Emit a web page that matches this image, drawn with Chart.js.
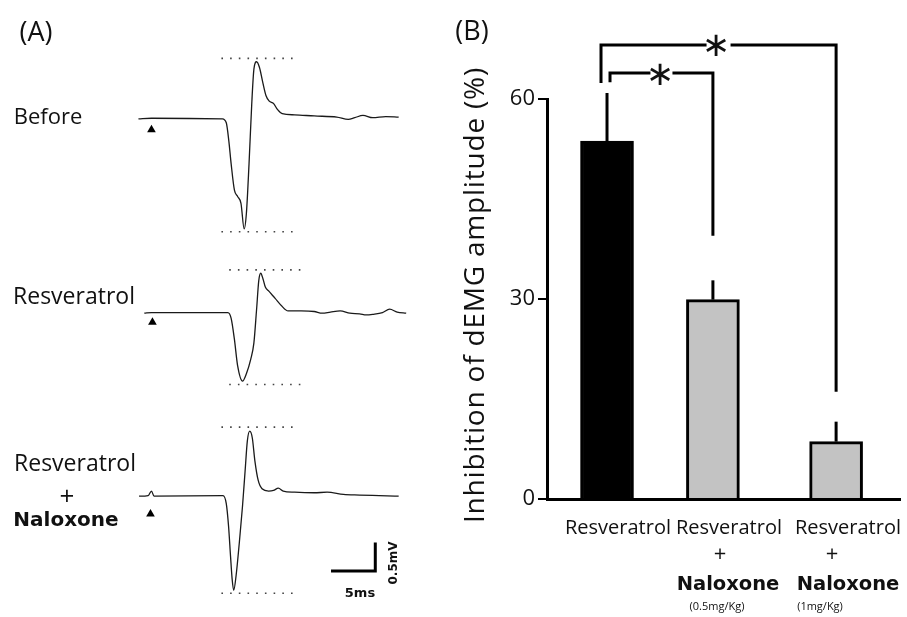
<!DOCTYPE html>
<html>
<head>
<meta charset="utf-8">
<script src="https://cdn.jsdelivr.net/npm/chart.js@4.4.1/dist/chart.umd.min.js"></script>
<style>
body { margin: 0; background: #fff; }
#wrap { position: relative; width: 907px; height: 617px; overflow: hidden; }
#traces { position: absolute; left: 0; top: 0; }
#bars { position: absolute; left: 420px; top: 0; }
.t { position: absolute; transform: translate(-50%, -50%); white-space: nowrap; line-height: 1; font-family: 'Open Sans'; color: #111; }
.b { font-family: 'DejaVu Sans'; font-weight: bold; }
.rot { transform: translate(-50%, -50%) rotate(-90deg); }
</style>
</head>
<body>
<div id="wrap">
  <canvas id="traces" width="420" height="617"></canvas>
  <canvas id="bars" width="487" height="617"></canvas>

  <div class="t" style="left:36px;top:30px;font-size:27px">(A)</div>
  <div class="t" style="left:48px;top:115px;font-size:22px">Before</div>
  <div class="t" style="left:74px;top:295px;font-size:23px">Resveratrol</div>
  <div class="t" style="left:75px;top:462px;font-size:23px">Resveratrol</div>
  <div class="t" style="left:67px;top:495px;font-size:26px">+</div>
  <div class="t b" style="left:66px;top:519px;font-size:20px">Naloxone</div>
  <div class="t b" style="left:360px;top:592px;font-size:13px">5ms</div>
  <div class="t b rot" style="left:393px;top:563px;font-size:12px">0.5mV</div>

  <div class="t" style="left:472px;top:29px;font-size:27px">(B)</div>
  <div class="t rot" style="left:473px;top:295px;font-size:28px;letter-spacing:0.8px">Inhibition of dEMG amplitude (%)</div>
  <div class="t" style="left:716px;top:44px;font-size:34px;font-family:'DejaVu Sans'">∗</div>
  <div class="t" style="left:660px;top:73px;font-size:34px;font-family:'DejaVu Sans'">∗</div>
  <div class="t" style="left:618px;top:527px;font-size:20px">Resveratrol</div>
  <div class="t" style="left:729px;top:527px;font-size:20px">Resveratrol</div>
  <div class="t" style="left:848px;top:527px;font-size:20px">Resveratrol</div>
  <div class="t" style="left:720px;top:552px;font-size:22px">+</div>
  <div class="t" style="left:832px;top:552px;font-size:22px">+</div>
  <div class="t b" style="left:728px;top:584px;font-size:19.5px">Naloxone</div>
  <div class="t b" style="left:848px;top:584px;font-size:19.5px">Naloxone</div>
  <div class="t" style="left:717px;top:605px;font-size:11px">(0.5mg/Kg)</div>
  <div class="t" style="left:820px;top:605px;font-size:11px">(1mg/Kg)</div>
</div>

<script>
// (A) dEMG traces: time in ms, amplitude in mV
const beforeTime = [0, 1.47, 9.48, 9.92, 10.21, 10.47, 10.84, 11.2, 11.58, 11.94, 12.19, 12.49, 12.79, 13.04, 13.34, 13.67, 14.04, 14.4, 14.77, 15.25, 15.72, 16.24, 17.64, 19.85, 22.41, 23.7, 24.43, 25.36, 26.46, 27.93, 29.39];
const beforeMv = [0, 0.01, 0, -0.07, -0.39, -0.79, -1.25, -1.36, -1.48, -1.93, -1.66, -0.79, 0.24, 0.87, 1.0, 0.9, 0.64, 0.41, 0.31, 0.27, 0.16, 0.09, 0.07, 0.05, 0.03, -0.01, 0.02, 0.06, 0.02, 0.04, 0.03];

const resvTime = [0.66, 1.47, 10.1, 10.47, 10.84, 11.2, 11.75, 12.19, 12.68, 13.04, 13.34, 13.59, 13.81, 14.07, 14.33, 14.7, 15.44, 16.16, 16.9, 18.37, 19.85, 20.76, 21.68, 22.78, 23.88, 24.98, 25.72, 26.46, 27.56, 28.37, 29.22, 30.24];
const resvMv = [-0.01, 0, 0, -0.1, -0.47, -0.93, -1.2, -1.07, -0.82, -0.53, 0.05, 0.56, 0.69, 0.59, 0.45, 0.38, 0.25, 0.12, 0.03, 0.03, 0.02, -0.01, 0.01, 0.03, -0.01, -0.02, -0.04, -0.03, 0, 0.06, 0.01, -0.01];

const naloxTime = [0.07, 1.1, 1.47, 1.76, 9.55, 9.92, 10.18, 10.4, 10.58, 10.76, 11.03, 11.39, 11.75, 12.05, 12.3, 12.57, 12.86, 13.15, 13.52, 13.96, 14.7, 15.25, 15.8, 16.35, 17.64, 19.85, 21.31, 23.15, 24.98, 27.19, 29.39];
const naloxMv = [-0.01, 0, 0.08, -0.01, 0, -0.14, -0.54, -1.06, -1.46, -1.66, -1.4, -0.83, -0.19, 0.44, 0.96, 1.13, 1.01, 0.61, 0.27, 0.12, 0.08, 0.09, 0.13, 0.08, 0.06, 0.05, 0.06, 0.02, 0.01, 0, -0.01];

// peak / trough reference levels (dotted lines), mV
const peakMv = [1.06, 0.75, 1.2];
const troughMv = [-1.98, -1.26, -1.71];
const dotStart = [9.37, 10.25, 9.37];
const dotEnd = [18.0, 19.09, 18.0];

// stimulus markers
const stimTime = [1.47, 1.58, 1.36];
const stimMv = [-0.19, -0.17, -0.32];

// scale bar: 5 ms, 0.5 mV
const barTime = [21.75, 26.75, 26.75];
const barMv = [-1.32, -1.32, -0.82];

// (B) inhibition of dEMG amplitude (%)
const groups = ['Resveratrol', 'Resveratrol + Naloxone (0.5mg/Kg)', 'Resveratrol + Naloxone (1mg/Kg)'];
const inhibition = [53.7, 29.9, 8.6];
const sem = [7.2, 2.9, 3.0];
const yTicks = [0, 30, 60];

function pts(xs, ys) {
    return xs.map((x, i) => ({ x: x, y: ys[i] }));
}

// ---------- panel A ----------
const pxPerMs = 9.07;
const pxPerMv = 58;
const baselinePx = [115.7, 312.7, 498.7];
const startPx = 136.7;
const hA = 617, wA = 420;

const traceScales = {
    x: { type: 'linear', display: false, min: -startPx / pxPerMs, max: (wA - startPx) / pxPerMs }
};
baselinePx.forEach((b, i) => {
    traceScales['y' + i] = { type: 'linear', display: false, max: b / pxPerMv, min: b / pxPerMv - hA / pxPerMv };
});

const traceSets = [];
[[beforeTime, beforeMv], [resvTime, resvMv], [naloxTime, naloxMv]].forEach((tr, i) => {
    traceSets.push({
        data: pts(tr[0], tr[1]), yAxisID: 'y' + i,
        borderColor: '#1a1a1a', borderWidth: 1.3, pointRadius: 0,
        cubicInterpolationMode: 'monotone', fill: false
    });
    [peakMv[i], troughMv[i]].forEach(level => {
        traceSets.push({
            data: pts([dotStart[i], dotEnd[i]], [level, level]), yAxisID: 'y' + i,
            borderColor: '#444', borderWidth: 1.6, borderDash: [1.6, 7.1], pointRadius: 0
        });
    });
    traceSets.push({
        data: [{ x: stimTime[i], y: stimMv[i] }], yAxisID: 'y' + i, showLine: false,
        pointStyle: 'triangle', pointRadius: 5, backgroundColor: '#000', borderColor: '#000', borderWidth: 0
    });
});
traceSets.push({
    data: pts(barTime, barMv), yAxisID: 'y2',
    borderColor: '#000', borderWidth: 3, pointRadius: 0, tension: 0,
    borderJoinStyle: 'miter', borderCapStyle: 'butt'
});

new Chart(document.getElementById('traces'), {
    type: 'line',
    data: { datasets: traceSets },
    options: {
        responsive: false,
        animation: false,
        layout: { padding: 0 },
        scales: traceScales,
        plugins: { legend: { display: false }, tooltip: { enabled: false } }
    }
});

// ---------- panel B ----------
const barX = [1.7, 4.7, 8.19];
const brackets = [
    { from: 0, to: 2, level: 68.1, leftEnd: 62.4, rightEnd: 16.1, dx: -6, gap: 12 },
    { from: 0, to: 1, level: 63.9, leftEnd: 62.5, rightEnd: 39.5, dx: 3, gap: 11 }
];

const annotate = {
    id: 'annotate',
    afterDatasetsDraw(chart) {
        const { ctx, scales: { x, y } } = chart;
        ctx.save();
        ctx.strokeStyle = '#000';
        ctx.lineWidth = 3;
        ctx.lineCap = 'butt';
        ctx.lineJoin = 'miter';
        // error bars (upper half)
        barX.forEach((bx, i) => {
            const px = x.getPixelForValue(bx);
            ctx.beginPath();
            ctx.moveTo(px, y.getPixelForValue(inhibition[i]));
            ctx.lineTo(px, y.getPixelForValue(inhibition[i] + sem[i]));
            ctx.stroke();
        });
        // significance brackets
        brackets.forEach(b => {
            const xl = x.getPixelForValue(barX[b.from]) + b.dx;
            const xr = x.getPixelForValue(barX[b.to]);
            const yl = y.getPixelForValue(b.level);
            const cx = (xl + xr) / 2;
            ctx.beginPath();
            ctx.moveTo(xl, y.getPixelForValue(b.leftEnd));
            ctx.lineTo(xl, yl);
            ctx.lineTo(cx - b.gap, yl);
            ctx.moveTo(cx + b.gap, yl);
            ctx.lineTo(xr, yl);
            ctx.lineTo(xr, y.getPixelForValue(b.rightEnd));
            ctx.stroke();
        });
        ctx.restore();
    }
};

new Chart(document.getElementById('bars'), {
    type: 'bar',
    data: {
        labels: groups,
        datasets: [{
            data: pts(barX, inhibition),
            backgroundColor: ['#000000', '#c3c3c3', '#c3c3c3'],
            borderColor: '#000',
            borderWidth: 3,
            borderSkipped: 'bottom',
            barThickness: 53,
            grouped: false
        }]
    },
    options: {
        responsive: false,
        animation: false,
        layout: { padding: { left: 0, top: 99, right: 7, bottom: 118 } },
        scales: {
            x: {
                type: 'linear', min: 0, max: 10, offset: false,
                ticks: { display: false },
                grid: { display: false },
                border: { display: true, width: 3, color: '#000' },
                afterFit(s) { s.height = 0; }
            },
            y: {
                min: 0, max: 60,
                afterBuildTicks(s) { s.ticks = yTicks.map(v => ({ value: v })); },
                ticks: { color: '#111', font: { family: 'Open Sans', size: 22 }, padding: 3 },
                grid: { drawOnChartArea: false, tickLength: 9, lineWidth: 2, color: '#000' },
                border: { display: true, width: 3, color: '#000' },
                afterFit(s) { s.width = 127; }
            }
        },
        plugins: { legend: { display: false }, tooltip: { enabled: false } }
    },
    plugins: [annotate]
});
</script>
</body>
</html>
